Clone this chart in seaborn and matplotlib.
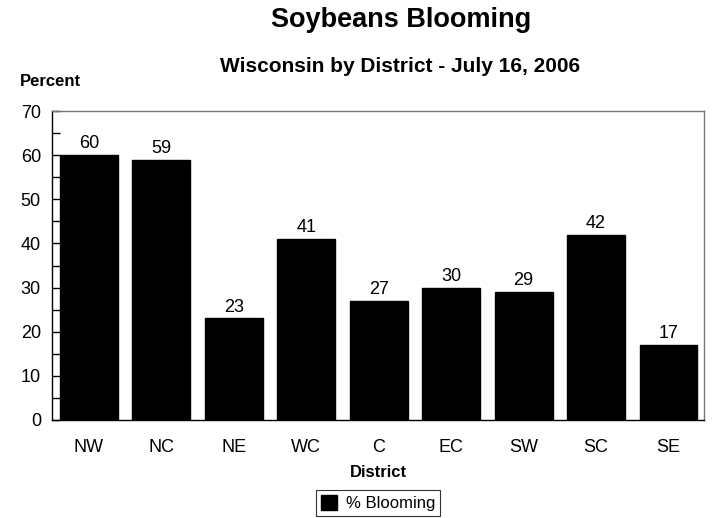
import matplotlib
matplotlib.use("Agg")
import matplotlib.pyplot as plt
import seaborn as sns
import pandas as pd
from matplotlib.patches import Patch
from matplotlib.ticker import MultipleLocator

districts = ["NW", "NC", "NE", "WC", "C", "EC", "SW", "SC", "SE"]
blooming = [60, 59, 23, 41, 27, 30, 29, 42, 17]
series_name = "% Blooming"

sns.set_theme(style="white")
plt.rcParams['font.family'] = ['Liberation Sans', 'DejaVu Sans']
for k in ["text.color", "axes.labelcolor", "xtick.color", "ytick.color"]:
    plt.rcParams[k] = "black"

df = pd.DataFrame({"District": districts, "Percent": blooming})

fig = plt.figure(figsize=(7.23, 5.18), dpi=100)
ax = fig.add_axes([52/723, 1-420/518, (704-52)/723, (420-111)/518])
sns.barplot(data=df, x="District", y="Percent", color="black", width=0.8,
            saturation=1, ax=ax, edgecolor="black")
ax.set_ylim(0, 70)
ax.set_xlim(-0.51, 8.49)
ax.yaxis.set_major_locator(MultipleLocator(10))
ax.yaxis.set_minor_locator(MultipleLocator(5))
ax.tick_params(axis="y", which="both", direction="in", length=6, left=True,
               width=1, color="black", labelsize=13, pad=8)
ax.tick_params(axis="x", length=0, labelsize=13, pad=14)
for s in ["left", "bottom"]:
    ax.spines[s].set_color("black")
    ax.spines[s].set_linewidth(1)
for s in ["top", "right"]:
    ax.spines[s].set_color("#777777")
    ax.spines[s].set_linewidth(1)

for p, v in zip(ax.patches, blooming):
    ax.text(p.get_x() + p.get_width()/2, v + 0.6, str(v), ha="center",
            va="bottom", fontsize=13)

ax.set_ylabel("")
ax.set_xlabel("District", fontsize=12, fontweight="bold", labelpad=6)

fig.text(401/723, 1-20/518, "Soybeans Blooming", ha="center", va="center",
         fontsize=19.5, fontweight="bold")
fig.text(400/723, 1-66/518, "Wisconsin by District - July 16, 2006",
         ha="center", va="center", fontsize=15, fontweight="bold")
fig.text(20/723, 1-82/518, "Percent", ha="left", va="center",
         fontsize=12, fontweight="bold")

leg = fig.legend(handles=[Patch(facecolor="black", edgecolor="black", label=series_name)],
                 loc="center", bbox_to_anchor=(378/723, 1-503/518), frameon=True,
                 fontsize=12, fancybox=False, handlelength=1.0, handleheight=1.0,
                 handletextpad=0.5, borderpad=0.3)
leg.get_frame().set_edgecolor("black")
leg.get_frame().set_linewidth(0.8)

fig.savefig("out.png", dpi=100)
